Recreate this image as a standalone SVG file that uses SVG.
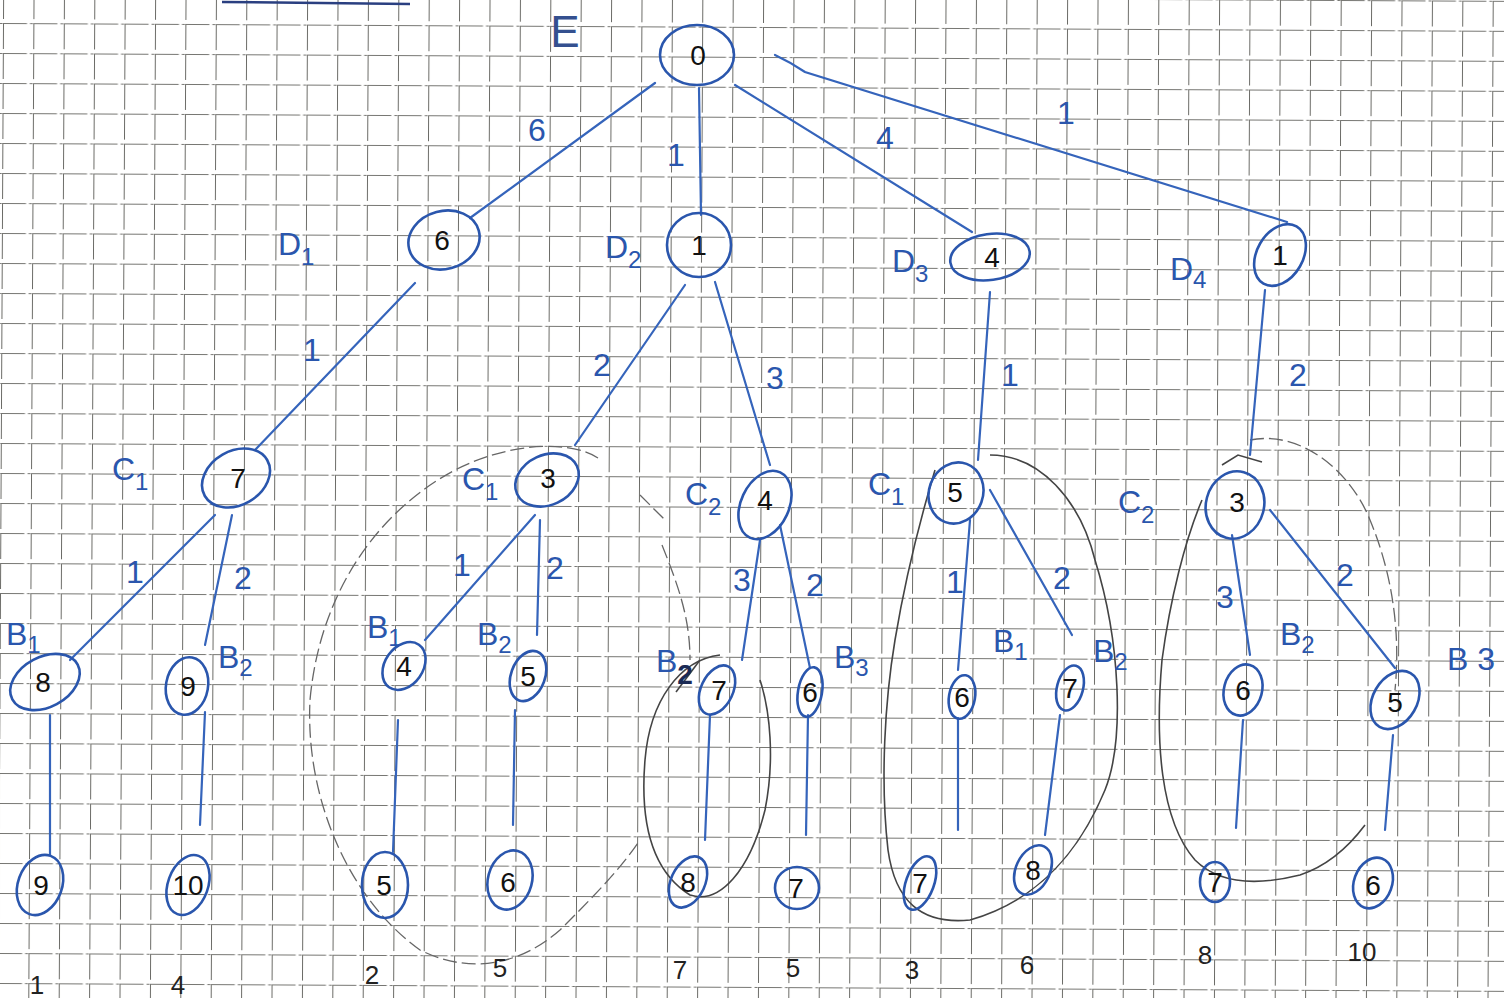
<svg xmlns="http://www.w3.org/2000/svg" width="1504" height="998" viewBox="0 0 1504 998">
<defs>
<pattern id="grid" width="30.4" height="30" patternUnits="userSpaceOnUse" patternTransform="translate(3,23) rotate(0.3)">
<path d="M0 0V30" fill="none" stroke="#6a6a66" stroke-width="2" stroke-dasharray="26 4"/>
<path d="M0 0H30.4" fill="none" stroke="#767672" stroke-width="1.8" stroke-dasharray="24 3 3 0.4"/>
</pattern>
</defs>
<style>
.n{fill:none;stroke:#2a56ad;stroke-width:2.6}
.v{font-family:"Liberation Sans",sans-serif;font-size:28px;fill:#111;text-anchor:middle;dominant-baseline:central}
.l{font-family:"Liberation Sans",sans-serif;font-size:32px;fill:#2a56ad}
.s{font-size:24px}
.e{stroke:#3564bb;stroke-width:2.2;fill:none;stroke-linecap:round}
.w{font-family:"Liberation Sans",sans-serif;font-size:32px;fill:#2a56ad;text-anchor:middle;dominant-baseline:central}
.b{font-family:"Liberation Sans",sans-serif;font-size:26px;fill:#222;text-anchor:middle;dominant-baseline:central}
.pd{fill:none;stroke:#666;stroke-width:1.3;stroke-dasharray:14 5}
.ps{fill:none;stroke:#444;stroke-width:1.6}
</style>
<rect width="1504" height="998" fill="#fff"/>
<rect width="1504" height="998" fill="url(#grid)"/>
<line x1="222" y1="2" x2="410" y2="4" stroke="#2a3f80" stroke-width="2.5"/>
<text x="565" y="47" font-family="Liberation Sans, sans-serif" font-size="44" fill="#34508f" text-anchor="middle">E</text>

<g id="pencil">
<path class="pd" d="M598 458C570 440 510 442 455 470C380 510 320 590 310 700C305 800 350 900 420 950C470 975 520 965 560 930C590 900 620 870 640 840"/>
<path class="pd" d="M640 495L665 520"/>
<path class="pd" d="M662 545C680 590 690 620 690 660"/>
<path class="ps" d="M720 655C680 660 650 700 645 760C640 820 650 870 690 895C720 905 750 870 765 810C775 760 770 710 760 680"/>
<path class="ps" d="M990 455C1040 455 1080 500 1095 560C1120 640 1125 740 1105 790C1080 850 1040 900 970 920C920 925 895 900 888 850C880 780 885 700 895 640C905 580 920 520 935 470"/>
<path class="pd" d="M1250 440C1300 430 1350 470 1370 520C1395 580 1400 640 1395 690"/>
<path class="ps" d="M1202 500C1185 540 1170 600 1162 660C1155 740 1160 820 1195 860C1220 885 1260 885 1300 875C1330 865 1350 845 1365 825"/>
<path class="ps" d="M1222 465L1238 455L1262 462"/>
<path class="ps" d="M700 660L676 692"/>
</g>

<g id="connectors">
<path class="e" d="M655 83L470 218"/>
<path class="e" d="M699 88L701 215"/>
<path class="e" d="M735 85L972 232"/>
<path class="e" d="M775 55Q790 62 805 72L1287 222"/>
<path class="e" d="M415 283L255 450"/>
<path class="e" d="M685 285L575 445"/>
<path class="e" d="M715 282L770 465"/>
<path class="e" d="M990 292L978 460"/>
<path class="e" d="M1265 290L1250 455"/>
<path class="e" d="M215 515L70 660"/>
<path class="e" d="M232 515L205 645"/>
<path class="e" d="M50 715L50 855"/>
<path class="e" d="M205 712L200 825"/>
<path class="e" d="M535 515L425 640"/>
<path class="e" d="M540 520L537 635"/>
<path class="e" d="M398 720L393 852"/>
<path class="e" d="M515 710L513 825"/>
<path class="e" d="M760 540L742 660"/>
<path class="e" d="M780 525L810 668"/>
<path class="e" d="M710 715L705 840"/>
<path class="e" d="M808 715L806 835"/>
<path class="e" d="M970 520L958 670"/>
<path class="e" d="M990 490L1072 635"/>
<path class="e" d="M958 718L958 830"/>
<path class="e" d="M1060 715L1045 835"/>
<path class="e" d="M1232 535L1250 655"/>
<path class="e" d="M1270 510L1395 668"/>
<path class="e" d="M1243 720L1236 828"/>
<path class="e" d="M1393 735L1385 830"/>
</g>

<g id="weights">
<text class="w" x="537" y="130">6</text>
<text class="w" x="676" y="155">1</text>
<text class="w" x="885" y="138">4</text>
<text class="w" x="1066" y="113">1</text>
<text class="w" x="312" y="350">1</text>
<text class="w" x="602" y="365">2</text>
<text class="w" x="775" y="378">3</text>
<text class="w" x="1010" y="375">1</text>
<text class="w" x="1298" y="375">2</text>
<text class="w" x="135" y="572">1</text>
<text class="w" x="243" y="578">2</text>
<text class="w" x="462" y="565">1</text>
<text class="w" x="555" y="568">2</text>
<text class="w" x="742" y="580">3</text>
<text class="w" x="815" y="585">2</text>
<text class="w" x="955" y="582">1</text>
<text class="w" x="1062" y="578">2</text>
<text class="w" x="1225" y="597">3</text>
<text class="w" x="1345" y="575">2</text>
</g>

<g id="root"><ellipse class="n" cx="697" cy="55" rx="37" ry="30"/><text class="v" x="698" y="55">0</text></g>

<g id="D1"><ellipse class="n" cx="444" cy="240" rx="36" ry="29" transform="rotate(-15 444 240)"/><text class="v" x="442" y="240">6</text><text class="l" x="278" y="255">D<tspan class="s" dy="10">1</tspan></text></g>
<g id="D2"><ellipse class="n" cx="699" cy="245" rx="32" ry="32"/><text class="v" x="699" y="245">1</text><text class="l" x="605" y="258">D<tspan class="s" dy="10">2</tspan></text></g>
<g id="D3"><ellipse class="n" cx="990" cy="257" rx="40" ry="23" transform="rotate(-8 990 257)"/><text class="v" x="992" y="257">4</text><text class="l" x="892" y="272">D<tspan class="s" dy="10">3</tspan></text></g>
<g id="D4"><ellipse class="n" cx="1280" cy="255" rx="23" ry="33" transform="rotate(30 1280 255)"/><text class="v" x="1280" y="255">1</text><text class="l" x="1170" y="280">D<tspan class="s" dy="8">4</tspan></text></g>

<g id="C1a"><ellipse class="n" cx="236" cy="478" rx="36" ry="27" transform="rotate(-30 236 478)"/><text class="v" x="238" y="478">7</text><text class="l" x="112" y="480">C<tspan class="s" dy="10">1</tspan></text></g>
<g id="C1b"><ellipse class="n" cx="547" cy="480" rx="33" ry="25" transform="rotate(-25 547 480)"/><text class="v" x="548" y="478">3</text><text class="l" x="462" y="490">C<tspan class="s" dy="10">1</tspan></text></g>
<g id="C2a"><ellipse class="n" cx="765" cy="505" rx="24" ry="36" transform="rotate(25 765 505)"/><text class="v" x="765" y="500">4</text><text class="l" x="685" y="505">C<tspan class="s" dy="10">2</tspan></text></g>
<g id="C1c"><ellipse class="n" cx="956" cy="493" rx="27" ry="31" transform="rotate(20 956 493)"/><text class="v" x="955" y="492">5</text><text class="l" x="868" y="495">C<tspan class="s" dy="10">1</tspan></text></g>
<g id="C2b"><ellipse class="n" cx="1235" cy="505" rx="29" ry="34" transform="rotate(15 1235 505)"/><text class="v" x="1237" y="502">3</text><text class="l" x="1118" y="513">C<tspan class="s" dy="10">2</tspan></text></g>

<g id="B1a"><ellipse class="n" cx="45" cy="682" rx="37" ry="25" transform="rotate(-28 45 682)"/><text class="v" x="43" y="682">8</text><text class="l" x="6" y="645">B<tspan class="s" dy="8">1</tspan></text></g>
<g id="B2a"><ellipse class="n" cx="187" cy="686" rx="21" ry="29" transform="rotate(10 187 686)"/><text class="v" x="188" y="686">9</text><text class="l" x="218" y="668">B<tspan class="s" dy="8">2</tspan></text></g>
<g id="B1b"><ellipse class="n" cx="404" cy="666" rx="19" ry="26" transform="rotate(35 404 666)"/><text class="v" x="404" y="666">4</text><text class="l" x="367" y="638">B<tspan class="s" dy="8">1</tspan></text></g>
<g id="B2b"><ellipse class="n" cx="528" cy="676" rx="17" ry="26" transform="rotate(20 528 676)"/><text class="v" x="528" y="676">5</text><text class="l" x="477" y="645">B<tspan class="s" dy="8">2</tspan></text></g>
<g id="B2c"><ellipse class="n" cx="717" cy="690" rx="16" ry="26" transform="rotate(25 717 690)"/><text class="v" x="719" y="690">7</text><text class="l" x="656" y="672">B<tspan dy="12" font-size="28" font-weight="bold" fill="#1a2a55">2</tspan></text></g>
<g id="B3a"><ellipse class="n" cx="810" cy="692" rx="12" ry="25" transform="rotate(10 810 692)"/><text class="v" x="810" y="692">6</text><text class="l" x="834" y="668">B<tspan class="s" dy="8">3</tspan></text></g>
<g id="B1c"><ellipse class="n" cx="962" cy="697" rx="13" ry="22" transform="rotate(10 962 697)"/><text class="v" x="962" y="697">6</text><text class="l" x="993" y="652">B<tspan class="s" dy="8">1</tspan></text></g>
<g id="B2d"><ellipse class="n" cx="1070" cy="688" rx="13" ry="23" transform="rotate(15 1070 688)"/><text class="v" x="1070" y="688">7</text><text class="l" x="1093" y="662">B<tspan class="s" dy="8">2</tspan></text></g>
<g id="B2e"><ellipse class="n" cx="1243" cy="690" rx="19" ry="26" transform="rotate(15 1243 690)"/><text class="v" x="1243" y="690">6</text><text class="l" x="1280" y="645">B<tspan class="s" dy="8">2</tspan></text></g>
<g id="B3b"><ellipse class="n" cx="1395" cy="700" rx="22" ry="31" transform="rotate(30 1395 700)"/><text class="v" x="1395" y="702">5</text><text class="l" x="1447" y="670">B 3</text></g>

<g id="L1"><ellipse class="n" cx="40" cy="885" rx="22" ry="31" transform="rotate(20 40 885)"/><text class="v" x="41" y="885">9</text><text class="b" x="37" y="985">1</text></g>
<g id="L2"><ellipse class="n" cx="188" cy="885" rx="20" ry="31" transform="rotate(20 188 885)"/><text class="v" x="188" y="885">10</text><text class="b" x="178" y="985">4</text></g>
<g id="L3"><ellipse class="n" cx="385" cy="885" rx="23" ry="33"/><text class="v" x="384" y="885">5</text><text class="b" x="372" y="975">2</text></g>
<g id="L4"><ellipse class="n" cx="510" cy="880" rx="22" ry="30" transform="rotate(15 510 880)"/><text class="v" x="508" y="882">6</text><text class="b" x="500" y="968">5</text></g>
<g id="L5"><ellipse class="n" cx="688" cy="882" rx="17" ry="27" transform="rotate(25 688 882)"/><text class="v" x="688" y="882">8</text><text class="b" x="680" y="970">7</text></g>
<g id="L6"><ellipse class="n" cx="797" cy="888" rx="22" ry="21"/><text class="v" x="796" y="888">7</text><text class="b" x="793" y="968">5</text></g>
<g id="L7"><ellipse class="n" cx="920" cy="883" rx="14" ry="28" transform="rotate(20 920 883)"/><text class="v" x="920" y="883">7</text><text class="b" x="912" y="970">3</text></g>
<g id="L8"><ellipse class="n" cx="1033" cy="870" rx="17" ry="26" transform="rotate(25 1033 870)"/><text class="v" x="1033" y="870">8</text><text class="b" x="1027" y="965">6</text></g>
<g id="L9"><ellipse class="n" cx="1215" cy="882" rx="15" ry="20"/><text class="v" x="1215" y="882">7</text><text class="b" x="1205" y="955">8</text></g>
<g id="L10"><ellipse class="n" cx="1373" cy="883" rx="19" ry="26" transform="rotate(20 1373 883)"/><text class="v" x="1373" y="885">6</text><text class="b" x="1362" y="952">10</text></g>
</svg>
